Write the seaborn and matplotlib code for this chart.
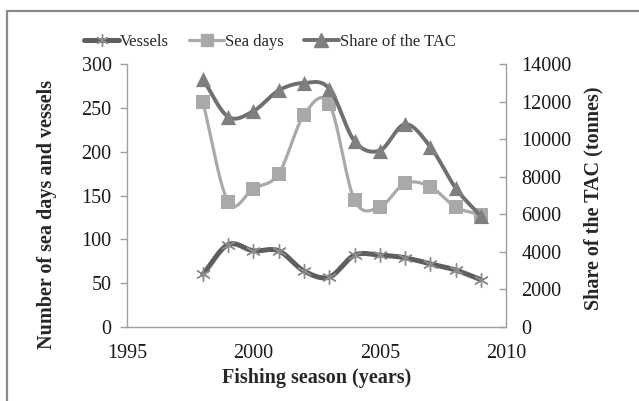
import numpy as np
import pandas as pd
import matplotlib
matplotlib.use("Agg")
import matplotlib.pyplot as plt
from matplotlib.lines import Line2D
import seaborn as sns

# Fishing seasons and the three series
years = [1998, 1999, 2000, 2001, 2002, 2003, 2004, 2005, 2006, 2007, 2008, 2009]
vessels = [60, 94, 87, 87, 64, 57, 82, 82, 79, 72, 65, 54]
sea_days = [257, 143, 158, 175, 242, 255, 145, 137, 164, 160, 137, 128]
tac_share = [13200, 11200, 11500, 12600, 13000, 12700, 9900, 9400, 10800, 9600, 7400, 5900]

x_ticks = [1995, 2000, 2005, 2010]
left_ticks = [0, 50, 100, 150, 200, 250, 300]
right_ticks = [0, 2000, 4000, 6000, 8000, 10000, 12000, 14000]

df = pd.DataFrame({"year": years, "Vessels": vessels,
                   "Sea days": sea_days, "Share of the TAC": tac_share})


def smooth(xs, ys, n=30, tension=0.5):
    """Catmull-Rom curve through the points (smoothed connecting line)."""
    xs = np.asarray(xs, float)
    ys = np.asarray(ys, float)
    px = np.concatenate([[2 * xs[0] - xs[1]], xs, [2 * xs[-1] - xs[-2]]])
    py = np.concatenate([[2 * ys[0] - ys[1]], ys, [2 * ys[-1] - ys[-2]]])
    outx, outy = [], []
    for i in range(1, len(px) - 2):
        t = np.linspace(0, 1, n, endpoint=False)
        m1x = tension * (px[i + 1] - px[i - 1]); m2x = tension * (px[i + 2] - px[i])
        m1y = tension * (py[i + 1] - py[i - 1]); m2y = tension * (py[i + 2] - py[i])
        h00 = 2 * t**3 - 3 * t**2 + 1; h10 = t**3 - 2 * t**2 + t
        h01 = -2 * t**3 + 3 * t**2; h11 = t**3 - t**2
        outx.append(h00 * px[i] + h10 * m1x + h01 * px[i + 1] + h11 * m2x)
        outy.append(h00 * py[i] + h10 * m1y + h01 * py[i + 1] + h11 * m2y)
    outx.append([xs[-1]]); outy.append([ys[-1]])
    return np.concatenate(outx), np.concatenate(outy)


sns.set_theme(style="white")
plt.rcParams["font.family"] = ["Liberation Serif", "DejaVu Serif"]

fig = plt.figure(figsize=(6.39, 4.01), dpi=100)
ax = fig.add_axes([0.1987, 0.1845, 0.5935, 0.6555])
ax2 = ax.twinx()

c_ves_line, c_ves_mk = "#5e5e5e", "#8c8c8c"
c_sea = "#a9a9a9"
c_tac_line, c_tac_mk = "#6f6f6f", "#7f7f7f"

# Vessels (left axis)
sx, sy = smooth(years, vessels)
ax.plot(sx, sy, color=c_ves_line, lw=3.6, solid_capstyle="round", zorder=3)
sns.scatterplot(data=df, x="year", y="Vessels", ax=ax, marker=(6, 2, 0),
                s=100, color=c_ves_mk, linewidth=1.0, zorder=4, legend=False)

# Sea days (left axis)
sx, sy = smooth(years, sea_days)
ax.plot(sx, sy, color=c_sea, lw=2.3, zorder=3)
sns.scatterplot(data=df, x="year", y="Sea days", ax=ax, marker="s",
                s=105, color=c_sea, edgecolor=c_sea, linewidth=0, zorder=4, legend=False)

# Share of the TAC (right axis)
sx, sy = smooth(years, tac_share)
ax2.plot(sx, sy, color=c_tac_line, lw=2.8, zorder=3)
sns.scatterplot(data=df, x="year", y="Share of the TAC", ax=ax2, marker="^",
                s=120, color=c_tac_mk, edgecolor=c_tac_mk, linewidth=0, zorder=4, legend=False)

ax.set_xlim(1995, 2010)
ax.set_ylim(0, 300)
ax2.set_ylim(0, 14000)
ax.set_xticks(x_ticks)
ax.set_yticks(left_ticks)
ax2.set_yticks(right_ticks)

spine_c = "#a0a0a0"
for a in (ax, ax2):
    for s in a.spines.values():
        s.set_color(spine_c)
        s.set_linewidth(1.0)
    a.spines["top"].set_visible(False)
    a.grid(False)
    a.set_facecolor("none")
ax.spines["right"].set_visible(False)
ax2.spines["left"].set_visible(False)
ax2.spines["bottom"].set_visible(False)

ax.tick_params(axis="y", labelsize=14.5, colors=spine_c, labelcolor="#1a1a1a",
               length=5, width=1, direction="out", pad=6)
ax.tick_params(axis="x", labelsize=14.5, colors=spine_c, labelcolor="#1a1a1a",
               length=5, width=1, direction="out", pad=7)
ax2.tick_params(axis="y", labelsize=14.5, colors=spine_c, labelcolor="#1a1a1a",
                length=5, width=1, direction="in", pad=11)

ax.set_xlabel("Fishing season (years)", fontsize=14.5, fontweight="bold")
ax.set_ylabel("Number of sea days and vessels", fontsize=14.5, fontweight="bold")
ax2.set_ylabel("Share of the TAC (tonnes)", fontsize=14.5, fontweight="bold")
ax.xaxis.set_label_coords(0.5, -0.155)
ax.yaxis.set_label_coords(-0.185, 0.43)
ax2.yaxis.set_label_coords(1.205, 0.49)

handles = [
    Line2D([], [], color=c_ves_line, lw=3.6, marker=(6, 2, 0), markersize=9,
           markeredgecolor=c_ves_mk, markeredgewidth=1.0),
    Line2D([], [], color=c_sea, lw=2.3, marker="s", markersize=9,
           markerfacecolor=c_sea, markeredgecolor=c_sea),
    Line2D([], [], color=c_tac_line, lw=2.8, marker="^", markersize=9.5,
           markerfacecolor=c_tac_mk, markeredgecolor=c_tac_mk),
]
fig.legend(handles, ["Vessels", "Sea days", "Share of the TAC"], loc="center",
           bbox_to_anchor=(0.4225, 0.895), ncol=3, frameon=False, fontsize=12,
           handlelength=2.1, handletextpad=0.05, columnspacing=1.2)

# Outer frame (left and top edges)
fig.add_artist(Line2D([6.5 / 639, 6.5 / 639], [0, 1 - 10.5 / 401],
                      transform=fig.transFigure, color="#8a8a8a", lw=1.6))
fig.add_artist(Line2D([6.5 / 639, 1], [1 - 10.5 / 401, 1 - 10.5 / 401],
                      transform=fig.transFigure, color="#8a8a8a", lw=1.6))

fig.savefig("out.png", dpi=100, facecolor="white")
